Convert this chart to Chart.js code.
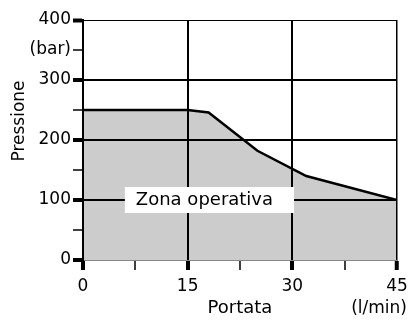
<!DOCTYPE html>
<html>
<head>
<meta charset="utf-8">
<script src="https://cdn.jsdelivr.net/npm/chart.js@4/dist/chart.umd.min.js"></script>
<style>
    html, body { margin: 0; padding: 0; background: #fff; }
    #wrap { width: 408px; height: 320px; position: relative; }
</style>
</head>
<body>
<div id="wrap"><canvas id="mainChart"></canvas></div>
<script>
// --- Data ---
const flowValues = [0, 15, 18, 25, 32, 45];          // l/min
const pressureValues = [250, 250, 246, 182, 140, 100]; // bar
const flowTicks = [0, 15, 30, 45];
const pressureTicks = [0, 100, 200, 300, 400];
const pressureUnitTick = 350;
const pressureUnit = '(bar)';
const flowTitle = 'Portata';
const flowUnit = '(l/min)';
const pressureTitle = 'Pressione';
const zoneLabel = 'Zona operativa';

const FONT = '"DejaVu Sans", sans-serif';
Chart.defaults.font.family = FONT;
Chart.defaults.color = '#000';

// --- Helpers ---
const isMajorX = v => flowTicks.includes(v);
const isMajorY = v => pressureTicks.includes(v);

// titles, units and the zone label are drawn by hand on top of everything
const labelsPlugin = {
    id: 'labels',
    afterDraw(chart) {
        const { ctx, chartArea, scales: { x, y } } = chart;
        ctx.save();
        ctx.fillStyle = '#000';

        // zone label in a white box sitting on the 100 bar line
        ctx.font = '18px ' + FONT;
        const w = ctx.measureText(zoneLabel).width;
        const left = x.getPixelForValue(6);
        const cy = y.getPixelForValue(100);
        ctx.fillStyle = '#fff';
        ctx.fillRect(left, cy - 13, w + 32, 26);
        ctx.fillStyle = '#000';
        ctx.textBaseline = 'middle';
        ctx.textAlign = 'left';
        ctx.fillText(zoneLabel, left + 11, cy);

        // x title + unit
        ctx.textBaseline = 'alphabetic';
        ctx.textAlign = 'center';
        ctx.fillText(flowTitle, (chartArea.left + chartArea.right) / 2, 313);
        ctx.font = '17px ' + FONT;
        ctx.textAlign = 'right';
        ctx.fillText(flowUnit, chart.width - 1, 313);

        // y title
        ctx.translate(20, 121);
        ctx.rotate(-Math.PI / 2);
        ctx.textAlign = 'center';
        ctx.textBaseline = 'middle';
        ctx.fillText(pressureTitle, 0, 0);
        ctx.restore();
    }
};

// --- Chart ---
const ctx = document.getElementById('mainChart').getContext('2d');
new Chart(ctx, {
    type: 'line',
    data: {
        datasets: [{
            data: flowValues.map((f, i) => ({ x: f, y: pressureValues[i] })),
            borderColor: '#000',
            borderWidth: 2.5,
            backgroundColor: '#cccccc',
            fill: 'origin',
            pointRadius: 0,
            tension: 0
        }]
    },
    options: {
        responsive: true,
        maintainAspectRatio: false,
        animation: false,
        layout: { padding: { top: 20, right: 0, left: 0, bottom: 0 } },
        plugins: { legend: { display: false }, tooltip: { enabled: false } },
        scales: {
            x: {
                type: 'linear',
                min: 0,
                max: 45,
                afterFit: s => { s.height = 60; s.paddingRight = 11; },
                border: { display: true, color: '#888', width: 1, z: 1 },
                grid: {
                    z: 1,
                    color: c => (c.tick.value > 0 && isMajorX(c.tick.value)) ? '#000' : 'rgba(0,0,0,0)',
                    lineWidth: c => c.tick.value === 45 ? 1.5 : 2,
                    tickColor: '#000',
                    tickWidth: c => isMajorX(c.tick.value) ? 4 : 1.5,
                    tickLength: 10
                },
                ticks: {
                    stepSize: 7.5,
                    autoSkip: false,
                    maxRotation: 0,
                    padding: 6,
                    font: { size: 17 },
                    callback: v => isMajorX(v) ? String(v) : ''
                }
            },
            y: {
                min: 0,
                max: 400,
                afterFit: s => { s.width = 83; },
                border: { display: true, color: '#000', width: 2, z: 1 },
                grid: {
                    z: 1,
                    color: c => (c.tick.value > 0 && isMajorY(c.tick.value)) ? '#000' : 'rgba(0,0,0,0)',
                    lineWidth: c => c.tick.value === 400 ? 1 : 2,
                    tickColor: '#000',
                    tickWidth: c => isMajorY(c.tick.value) ? 4 : 1.5,
                    tickLength: 10
                },
                ticks: {
                    stepSize: 50,
                    autoSkip: false,
                    padding: 2,
                    font: { size: 17 },
                    callback: v => isMajorY(v) ? String(v) : (v === pressureUnitTick ? pressureUnit : '')
                }
            }
        }
    },
    plugins: [labelsPlugin]
});
</script>
</body>
</html>
